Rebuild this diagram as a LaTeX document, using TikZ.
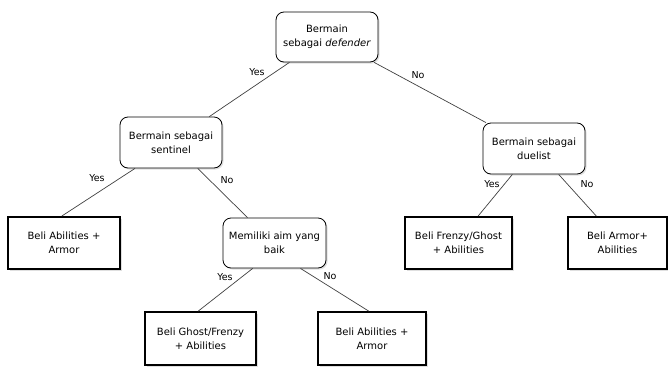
\documentclass[tikz,border=0pt]{standalone}
\usepackage{fontspec}
\setmainfont{DejaVu Sans}
\usetikzlibrary{calc,shadows}

\tikzset{
  ask/.style={draw=black, line width=.8pt, rounded corners=8pt, fill=white, align=center,
    inner sep=1pt, drop shadow={shadow xshift=1.5pt, shadow yshift=-1.5pt, opacity=.25}},
  buy/.style={draw=black, line width=1.8pt, fill=white, align=center,
    inner sep=1pt, drop shadow={shadow xshift=1.5pt, shadow yshift=-1.5pt, opacity=.25}},
  link/.style={line width=.7pt, draw=black!75},
  tag/.style={font=\fontsize{9.5}{11}\selectfont, inner sep=0pt}
}

\begin{document}
\begin{tikzpicture}[x=1pt,y=-1pt,font=\fontsize{10}{14}\selectfont]
  \useasboundingbox (0,0) rectangle (668,367);

  % questions
  \node[ask, minimum width=102pt, minimum height=50pt] (root) at (327,37) {Bermain\\sebagai \textit{defender}};
  \node[ask, minimum width=102pt, minimum height=51pt] (sent) at (171,142.5) {Bermain sebagai\\sentinel};
  \node[ask, minimum width=102pt, minimum height=51pt] (duel) at (534,148.5) {Bermain sebagai\\duelist};
  \node[ask, minimum width=103pt, minimum height=50pt] (aim) at (274.5,243) {Memiliki aim yang\\baik};

  % answers
  \node[buy, minimum width=112pt, minimum height=52pt] (abiArmor) at (64,243) {Beli Abilities +\\Armor};
  \node[buy, minimum width=107pt, minimum height=52pt] (frenzy) at (458.5,243) {Beli Frenzy/Ghost\\+ Abilities};
  \node[buy, minimum width=99pt, minimum height=52pt] (armorAbi) at (617.5,243) {Beli Armor+\\Abilities};
  \node[buy, minimum width=111pt, minimum height=53pt] (ghost) at (200.5,338.5) {Beli Ghost/Frenzy\\+ Abilities};
  \node[buy, minimum width=108pt, minimum height=53pt] (abiArmorB) at (372,338.5) {Beli Abilities +\\Armor};

  \draw[link] (root) -- (sent);
  \draw[link] (root) -- (duel);
  \foreach \a/\p/\b/\q in {sent/.15/abiArmor/.48, sent/.76/aim/.24, aim/.29/ghost/.48,
      aim/.75/abiArmorB/.47, duel/.29/frenzy/.68, duel/.74/armorAbi/.29} {
    \draw[link] ($(\a.south west)!\p!(\a.south east)$) -- ($(\b.north west)!\q!(\b.north east)$);}

  % yes / no
  \foreach \t/\x/\y/\n in {Yes/257/72/yRoot, No/418/75/nRoot, Yes/97/178/ySent, No/227/180/nSent,
      Yes/225/277/yAim, No/330/276/nAim, Yes/492/184/yDuel, No/587/184/nDuel} {
    \node[tag] (\n) at (\x,\y) {\t};}
\end{tikzpicture}
\end{document}
